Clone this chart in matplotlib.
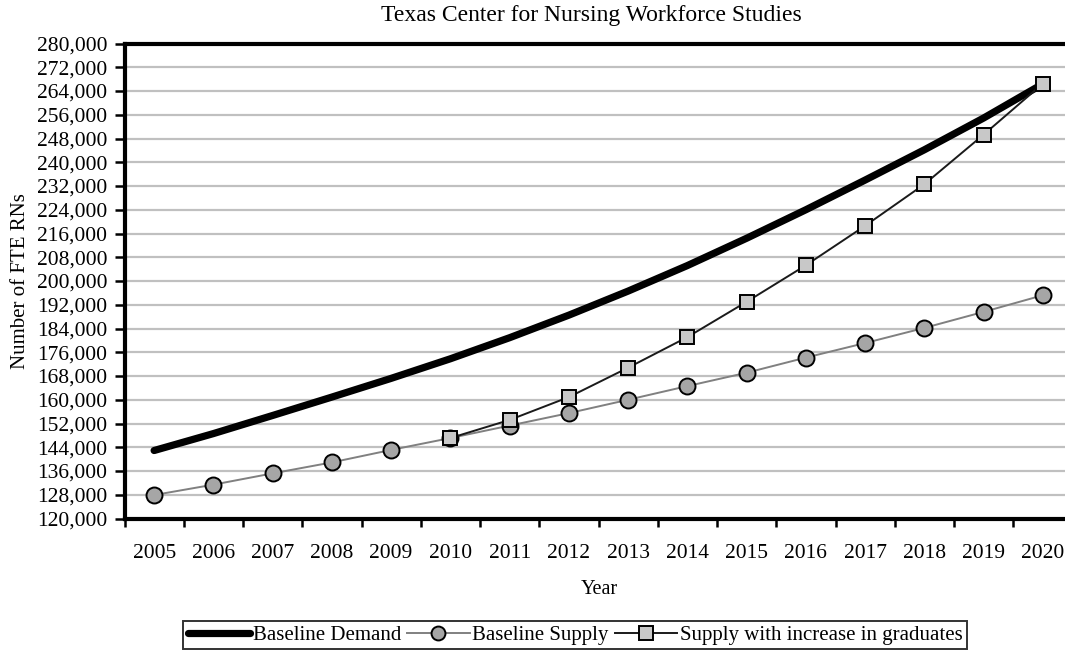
import matplotlib
matplotlib.use("Agg")
import matplotlib.pyplot as plt
from matplotlib.ticker import FuncFormatter, MultipleLocator
from matplotlib.lines import Line2D

years = [str(y) for y in range(2005, 2021)]
baseline_demand = [142900, 148600, 154700, 160900, 167200, 173800, 180900, 188500,
                   196600, 205200, 214400, 224000, 234000, 244200, 254900, 266400]
baseline_supply = [127900, 131400, 135200, 138900, 143100, 147100, 151300, 155500,
                   160000, 164600, 169100, 174200, 179100, 184200, 189600, 195200]
grad_years = [str(y) for y in range(2010, 2021)]
supply_grad = [147100, 153200, 160900, 170800, 181100, 193000, 205300, 218600,
               232600, 249300, 266500]

plt.rcParams['font.family'] = ['Liberation Serif', 'DejaVu Serif']

W, H = 1065, 660
fig = plt.figure(figsize=(W / 100, H / 100), dpi=100)
left, right, top, bottom = 124.5, 1072.5, 43.5, 518.5
ax = fig.add_axes([left / W, 1 - bottom / H, (right - left) / W, (bottom - top) / H])

x = list(range(len(years)))
xg = [years.index(y) for y in grad_years]

ax.plot(x, baseline_demand, color='black', lw=5.2, solid_capstyle='round', zorder=3,
        label='Baseline Demand')
ax.plot(x, baseline_supply, color='#808080', lw=1.4, marker='o', ms=11.5,
        mfc='#a6a6a6', mec='black', mew=1.4, zorder=4, label='Baseline Supply')
ax.plot(xg, supply_grad, color='#1a1a1a', lw=1.4, marker='s', ms=10.5,
        mfc='#c8c8c8', mec='black', mew=1.4, zorder=5,
        label='Supply with increase in graduates')

ax.set_xlim(-0.5, len(years) - 0.5)
ax.set_ylim(120000, 280000)
ax.yaxis.set_major_locator(MultipleLocator(8000))
ax.yaxis.set_major_formatter(FuncFormatter(lambda v, p: f"{int(v):,}"))
ax.set_xticks(x)
ax.set_xticklabels(years)
ax.set_xticks([i - 0.5 for i in range(len(years) + 1)], minor=True)
ax.tick_params(axis='x', which='major', length=0, pad=18, labelsize=15.5)
ax.tick_params(axis='x', which='minor', length=6, width=1.8, direction='out')
ax.tick_params(axis='y', which='major', length=7, width=1.8, direction='out', pad=5.5,
               labelsize=15.5)

ax.grid(axis='y', color='#c0c0c0', lw=1.6, zorder=0)
ax.set_axisbelow(True)
for s in ['left', 'bottom', 'top', 'right']:
    ax.spines[s].set_linewidth(3)
    ax.spines[s].set_color('black')

ax.set_ylabel('Number of FTE RNs', fontsize=15)
ax.yaxis.set_label_coords((30 - left) / (right - left), 0.5)
ax.set_xlabel('Year', fontsize=14.5)
ax.xaxis.set_label_coords((599 - left) / (right - left), -(580 - bottom) / (bottom - top))
fig.text(591 / W, 1 - 15 / H, 'Texas Center for Nursing Workforce Studies',
         ha='center', va='center', fontsize=17)

h_dem = Line2D([], [], color='black', lw=5.2, solid_capstyle='round')
h_sup = Line2D([], [], color='#808080', lw=1.4, marker='o', ms=10, mfc='#a6a6a6',
               mec='black', mew=1.4)
h_grd = Line2D([], [], color='#1a1a1a', lw=1.4, marker='s', ms=9.5, mfc='#c8c8c8',
               mec='black', mew=1.4)
labels = ['Baseline Demand', 'Baseline Supply', 'Supply with increase in graduates']
leg = fig.legend([h_dem, h_sup, h_grd], labels, loc='center',
                 bbox_to_anchor=(575 / W, 1 - 635 / H),
                 ncol=3, frameon=True, fancybox=False, edgecolor='black',
                 fontsize=15, handlelength=3.0, handletextpad=0.12,
                 columnspacing=0.3, borderpad=0.2, borderaxespad=0)
leg.get_frame().set_linewidth(1.4)

fig.savefig('out.png', dpi=100)
